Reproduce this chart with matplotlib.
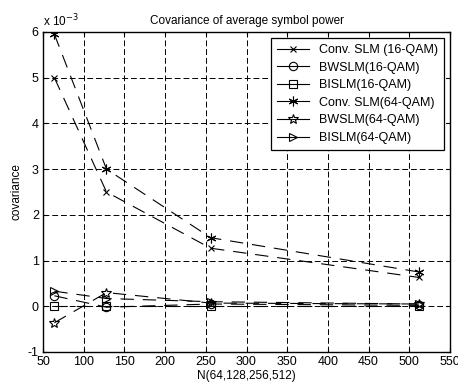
import matplotlib.pyplot as plt
from matplotlib.ticker import FuncFormatter

plt.rcParams['font.family'] = ['Liberation Sans', 'DejaVu Sans']

N = [64, 128, 256, 512]
conv16 = [5.0e-3, 2.5e-3, 1.27e-3, 0.63e-3]
bw16 = [0.23e-3, -0.02e-3, 0.05e-3, 0.02e-3]
bi16 = [0.0, 0.0, 0.0, 0.0]
conv64 = [5.95e-3, 3.0e-3, 1.5e-3, 0.75e-3]
bw64 = [-0.36e-3, 0.3e-3, 0.07e-3, 0.05e-3]
bi64 = [0.33e-3, 0.17e-3, 0.1e-3, 0.05e-3]

labels = ['Conv. SLM (16-QAM)', 'BWSLM(16-QAM)', 'BISLM(16-QAM)',
          'Conv. SLM(64-QAM)', 'BWSLM(64-QAM)', 'BISLM(64-QAM)']
series = [conv16, bw16, bi16, conv64, bw64, bi64]
# matlab style markers: x, o, square, asterisk, pentagram, right triangle
markers = ['x', 'o', 's', (6, 2, 0), '*', '>']
sizes = [4, 6, 6, 7, 7, 6]

fig = plt.figure(figsize=(4.58, 3.83), dpi=100)
ax = fig.add_axes([43 / 458, 1 - 352 / 383, 407 / 458, 320 / 383])

for y, m, ms, lab in zip(series, markers, sizes, labels):
    ax.plot(N, y, color='black', lw=0.8, linestyle=(0, (12, 8)),
            marker=m, markersize=ms, markerfacecolor='none',
            markeredgecolor='black', markeredgewidth=0.8, label=lab)

ax.set_xlim(50, 550)
ax.set_ylim(-1e-3, 6e-3)
ax.set_xticks(range(50, 551, 50))
ax.set_yticks([i * 1e-3 for i in range(-1, 7)])
ax.yaxis.set_major_formatter(FuncFormatter(lambda v, p: '%g' % round(v * 1e3, 6)))
ax.grid(True, color='black', linestyle=(0, (6, 3)), lw=0.7)
ax.tick_params(direction='in', labelsize=9, length=3, top=True, right=True, pad=3)
for s in ax.spines.values():
    s.set_linewidth(1.0)

ax.set_title('Covariance of average symbol power', fontsize=8.5, pad=6)
ax.set_xlabel('N(64,128,256,512)', fontsize=8.5, labelpad=1)
ax.set_ylabel('covariance', fontsize=8.5, labelpad=4)
ax.text(0.0, 1.01, 'x 10$^{-3}$', transform=ax.transAxes, fontsize=8.5,
        ha='left', va='bottom')

leg = ax.legend(loc='upper right', fontsize=9, fancybox=False, framealpha=1,
                edgecolor='black', handlelength=2.6, borderpad=0.45,
                labelspacing=0.45, bbox_to_anchor=(1.0, 1.0))
leg.get_frame().set_linewidth(0.9)
for h in leg.get_lines():
    h.set_linestyle('-')

fig.savefig('out.png', dpi=100)
